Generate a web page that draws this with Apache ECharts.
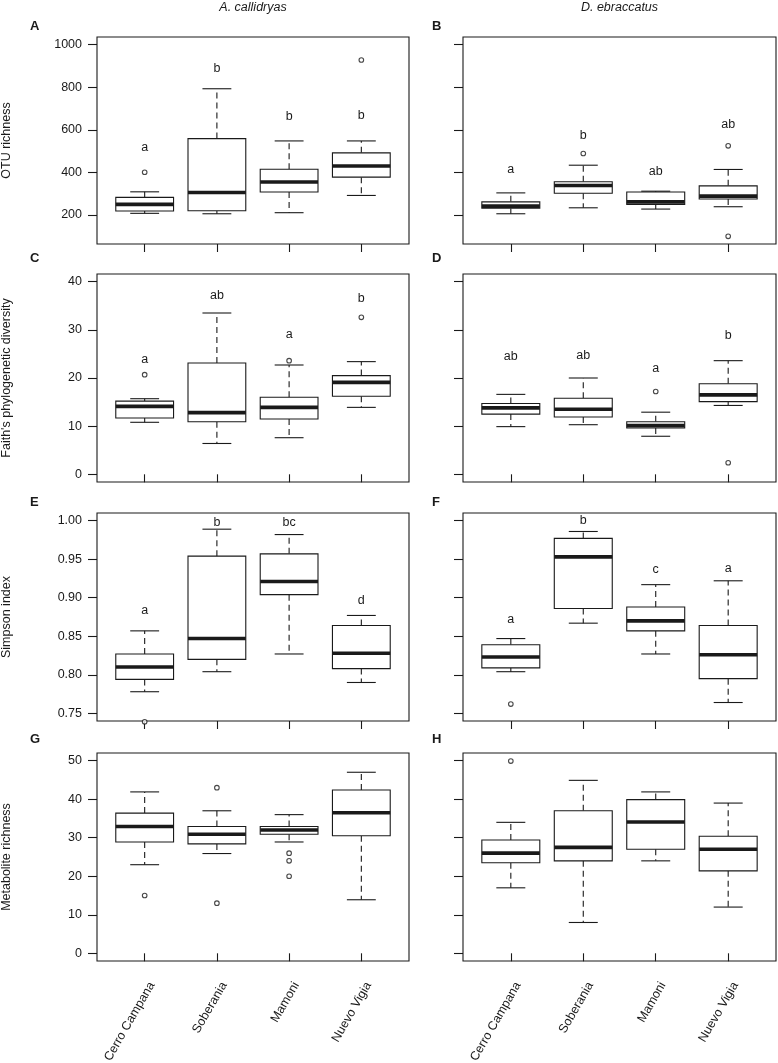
<!DOCTYPE html>
<html>
<head>
<meta charset="utf-8">
<title>Skin microbiome diversity by site</title>
<script src="https://cdn.jsdelivr.net/npm/echarts@6/dist/echarts.min.js"></script>
<style>
  html, body { margin: 0; padding: 0; background: #fff; }
  #chart { width: 778px; height: 1063px; }
</style>
</head>
<body>
<div id="chart"></div>
<script>
// sites on the x axis (same order in every panel)
const sites = ['Cerro Campana', 'Soberania', 'Mamoni', 'Nuevo Vigia'];

// boxes: [lower whisker, Q1, median, Q3, upper whisker]
// outliers: [site index (1-4), value]; letters: [text, y]
const otuCal = [[208, 219, 250, 283, 309], [206, 220, 306, 559, 793], [211, 308, 355, 415, 548], [292, 378, 430, 492, 548]];
const otuCalOut = [[1, 401], [4, 928]];
const otuCalLetters = [['a', 515], ['b', 890], ['b', 664], ['b', 669]];

const otuEbr = [[206, 232, 242, 262, 304], [234, 302, 339, 356, 434], [228, 250, 262, 308, 312], [239, 275, 289, 337, 414]];
const otuEbrOut = [[2, 489], [4, 525], [4, 100]];
const otuEbrLetters = [['a', 414], ['b', 575], ['ab', 406], ['ab', 626]];

const pdCal = [[10.8, 11.7, 14.1, 15.2, 15.7], [6.4, 10.9, 12.8, 23.1, 33.5], [7.6, 11.5, 13.9, 16.0, 22.7], [13.9, 16.2, 19.1, 20.5, 23.4]];
const pdCalOut = [[1, 20.7], [3, 23.6], [4, 32.6]];
const pdCalLetters = [['a', 23.8], ['ab', 37.2], ['a', 29.0], ['b', 36.4]];

const pdEbr = [[9.9, 12.5, 13.8, 14.7, 16.6], [10.3, 11.9, 13.5, 15.8, 20.0], [7.9, 9.6, 10.1, 10.9, 12.9], [14.3, 15.1, 16.5, 18.8, 23.6]];
const pdEbrOut = [[3, 17.2], [4, 2.4]];
const pdEbrLetters = [['ab', 24.5], ['ab', 24.7], ['a', 21.9], ['b', 28.8]];

const simCal = [[0.778, 0.794, 0.810, 0.827, 0.857], [0.804, 0.820, 0.847, 0.954, 0.989], [0.827, 0.904, 0.921, 0.957, 0.982], [0.790, 0.808, 0.828, 0.864, 0.877]];
const simCalOut = [[1, 0.739]];
const simCalLetters = [['a', 0.883], ['b', 0.998], ['bc', 0.997], ['d', 0.897]];

const simEbr = [[0.804, 0.809, 0.823, 0.839, 0.847], [0.867, 0.886, 0.953, 0.977, 0.986], [0.827, 0.857, 0.870, 0.888, 0.917], [0.764, 0.795, 0.826, 0.864, 0.922]];
const simEbrOut = [[1, 0.762]];
const simEbrLetters = [['a', 0.872], ['b', 1.0], ['c', 0.937], ['a', 0.938]];

const metCal = [[23.0, 28.9, 32.9, 36.4, 41.9], [25.9, 28.4, 30.9, 32.9, 37.0], [28.9, 30.9, 32.0, 32.9, 36.0], [13.9, 30.5, 36.5, 42.4, 47.0]];
const metCalOut = [[1, 15.0], [2, 43.0], [2, 13.0], [3, 26.0], [3, 24.0], [3, 20.0]];
const metCalLetters = [];

const metEbr = [[17.0, 23.5, 26.0, 29.4, 34.0], [8.0, 24.0, 27.5, 37.0, 44.9], [24.0, 27.0, 34.1, 39.9, 41.9], [12.0, 21.4, 27.0, 30.4, 39.0]];
const metEbrOut = [[1, 49.9]];
const metEbrLetters = [];

// y axes: range shown and tick values
const otuRange = [64, 1036];
const otuTicks = [200, 400, 600, 800, 1000];
const pdRange = [-1.6, 41.6];
const pdTicks = [0, 10, 20, 30, 40];
const simRange = [0.74, 1.01];
const simTicks = [0.75, 0.80, 0.85, 0.90, 0.95, 1.00];
const metRange = [-2, 52];
const metTicks = [0, 10, 20, 30, 40, 50];

const species = ['A. callidryas', 'D. ebraccatus'];
const yTitles = ['OTU richness', "Faith's phylogenetic diversity", 'Simpson index', 'Metabolite richness'];
const panelLetters = ['A', 'B', 'C', 'D', 'E', 'F', 'G', 'H'];

const panels = [
  { box: otuCal, out: otuCalOut, letters: otuCalLetters, range: otuRange, ticks: otuTicks, dec: 0 },
  { box: otuEbr, out: otuEbrOut, letters: otuEbrLetters, range: otuRange, ticks: otuTicks, dec: 0 },
  { box: pdCal, out: pdCalOut, letters: pdCalLetters, range: pdRange, ticks: pdTicks, dec: 0 },
  { box: pdEbr, out: pdEbrOut, letters: pdEbrLetters, range: pdRange, ticks: pdTicks, dec: 0 },
  { box: simCal, out: simCalOut, letters: simCalLetters, range: simRange, ticks: simTicks, dec: 2 },
  { box: simEbr, out: simEbrOut, letters: simEbrLetters, range: simRange, ticks: simTicks, dec: 2 },
  { box: metCal, out: metCalOut, letters: metCalLetters, range: metRange, ticks: metTicks, dec: 0 },
  { box: metEbr, out: metEbrOut, letters: metEbrLetters, range: metRange, ticks: metTicks, dec: 0 }
];

const ink = '#1a1a1a';
const font = 'Liberation Sans, Arial, Helvetica, sans-serif';
const fs = 12.5;

const colLeft = [97, 463];
const colWidth = [312, 313];
const rowTop = [37, 274, 513, 753];
const rowHeight = 208;
const letterTop = [19.5, 252, 496, 733];
const letterLeft = [30, 432];
const xMin = 0.34, xMax = 4.66;
const labelShift = 0.1; // rotated site names sit a little right of their tick

var chart = echarts.init(document.getElementById('chart'), null, { renderer: 'canvas' });

function renderBox(params, api) {
  const x = api.value(0);
  const pLow = api.coord([x, api.value(1)]);
  const pQ1 = api.coord([x, api.value(2)]);
  const pMed = api.coord([x, api.value(3)]);
  const pQ3 = api.coord([x, api.value(4)]);
  const pHigh = api.coord([x, api.value(5)]);
  const cx = pMed[0];
  const w = api.size([0.8, 0])[0];
  const cap = w / 4;
  const thin = { stroke: ink, lineWidth: 1.1 };
  const dashed = { stroke: ink, lineWidth: 1.1, lineDash: [6, 4] };
  return {
    type: 'group',
    children: [
      { type: 'line', shape: { x1: cx, y1: pQ1[1], x2: cx, y2: pLow[1] }, style: dashed },
      { type: 'line', shape: { x1: cx, y1: pQ3[1], x2: cx, y2: pHigh[1] }, style: dashed },
      { type: 'line', shape: { x1: cx - cap, y1: pLow[1], x2: cx + cap, y2: pLow[1] }, style: thin },
      { type: 'line', shape: { x1: cx - cap, y1: pHigh[1], x2: cx + cap, y2: pHigh[1] }, style: thin },
      { type: 'rect', shape: { x: cx - w / 2, y: pQ3[1], width: w, height: pQ1[1] - pQ3[1] },
        style: { fill: '#fff', stroke: ink, lineWidth: 1.1 } },
      { type: 'line', shape: { x1: cx - w / 2, y1: pMed[1], x2: cx + w / 2, y2: pMed[1] },
        style: { stroke: ink, lineWidth: 3.6 } }
    ]
  };
}

function renderLetter(params, api) {
  const p = api.coord([api.value(0), api.value(1)]);
  return {
    type: 'text',
    x: p[0], y: p[1],
    style: {
      text: params.context.labels[params.dataIndex],
      font: fs + 'px ' + font,
      fill: ink,
      textAlign: 'center',
      textVerticalAlign: 'middle'
    }
  };
}

const grid = [], xAxis = [], yAxis = [], series = [], title = [];

panels.forEach((pn, k) => {
  const col = k % 2, row = Math.floor(k / 2);
  grid.push({
    left: colLeft[col], top: rowTop[row], width: colWidth[col], height: row === 0 ? 207 : rowHeight,
    outerBoundsMode: 'none', containLabel: false,
    show: true, borderColor: ink, borderWidth: 1.1, backgroundColor: 'transparent'
  });
  xAxis.push({
    type: 'value', gridIndex: k, min: xMin, max: xMax,
    axisLine: { show: false },
    splitLine: { show: false },
    axisTick: { show: true, length: 8, customValues: [1, 2, 3, 4], lineStyle: { color: ink, width: 1.1 } },
    axisLabel: { show: false }
  });
  yAxis.push({
    type: 'value', gridIndex: k, min: pn.range[0], max: pn.range[1],
    name: col === 0 ? yTitles[row] : '',
    nameLocation: 'middle', nameRotate: 90, nameGap: 84,
    nameTextStyle: { color: ink, fontFamily: font, fontSize: fs },
    axisLine: { show: false },
    splitLine: { show: false },
    axisTick: { show: true, length: 9, customValues: pn.ticks, lineStyle: { color: ink, width: 1.1 } },
    axisLabel: {
      show: col === 0, customValues: pn.ticks, margin: 15,
      formatter: v => Number(v).toFixed(pn.dec),
      color: ink, fontFamily: font, fontSize: fs
    }
  });

  series.push({
    type: 'custom', xAxisIndex: k, yAxisIndex: k,
    renderItem: renderBox,
    encode: { x: 0, y: [1, 2, 3, 4, 5] },
    data: pn.box.map((b, i) => [i + 1].concat(b)),
    silent: true
  });
  series.push({
    type: 'scatter', xAxisIndex: k, yAxisIndex: k,
    symbol: 'circle', symbolSize: 4.6, clip: false,
    itemStyle: { color: '#fff', borderColor: ink, borderWidth: 1.1 },
    data: pn.out,
    silent: true
  });
  if (pn.letters.length) {
    const labels = pn.letters.map(l => l[0]);
    series.push({
      type: 'custom', xAxisIndex: k, yAxisIndex: k,
      renderItem: function (params, api) {
        params.context.labels = labels;
        return renderLetter(params, api);
      },
      encode: { x: 0, y: 1 },
      data: pn.letters.map((l, i) => [i + 1, l[1]]),
      silent: true
    });
  }

  title.push({
    text: panelLetters[k], left: letterLeft[col], top: letterTop[row], padding: 0,
    textStyle: { color: ink, fontFamily: font, fontSize: 13, fontWeight: 'bold' }
  });
});

// site names under the bottom row, on their own label-only axes
[6, 7].forEach(k => {
  xAxis.push({
    type: 'value', gridIndex: k, position: 'bottom',
    min: xMin - labelShift, max: xMax - labelShift,
    axisLine: { show: false },
    splitLine: { show: false },
    axisTick: { show: false },
    axisLabel: {
      show: true, customValues: [1, 2, 3, 4], rotate: 60, margin: 22,
      formatter: v => sites[Math.round(v) - 1],
      color: ink, fontFamily: font, fontSize: fs
    }
  });
});

species.forEach((s, col) => {
  title.push({
    text: s, left: colLeft[col] + colWidth[col] / 2, top: 1.5, textAlign: 'center', padding: 0,
    textStyle: { color: ink, fontFamily: font, fontSize: fs, fontStyle: 'italic', fontWeight: 'normal' }
  });
});

var option = {
  animation: false,
  backgroundColor: '#fff',
  title: title,
  grid: grid,
  xAxis: xAxis,
  yAxis: yAxis,
  series: series
};

if (option && typeof option === 'object') {
  chart.setOption(option);
}
window.addEventListener('resize', chart.resize);
</script>
</body>
</html>
